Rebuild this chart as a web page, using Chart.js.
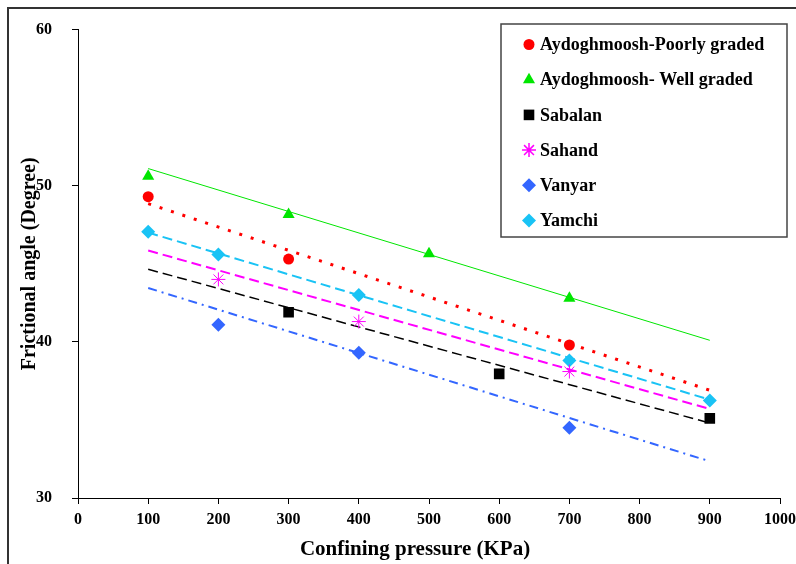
<!DOCTYPE html>
<html>
<head>
<meta charset="utf-8">
<script src="https://cdn.jsdelivr.net/npm/chart.js@4.4.0/dist/chart.umd.min.js"></script>
<style>
  body { margin: 0; background: #fff; }
  canvas { display: block; }
</style>
</head>
<body>
<canvas id="grafico" width="796" height="564"></canvas>
<script>
// Valores (pressão em KPa, ângulo em graus)
const pressaoPoorly = [100, 300, 700];
const anguloPoorly = [49.3, 45.3, 39.8];

const pressaoWell = [100, 300, 500, 700];
const anguloWell = [50.6, 48.15, 45.65, 42.8];

const pressaoSabalan = [300, 600, 900];
const anguloSabalan = [41.9, 37.95, 35.1];

const pressaoSahand = [200, 400, 700];
const anguloSahand = [44.0, 41.3, 38.1];

const pressaoVanyar = [200, 400, 700];
const anguloVanyar = [41.1, 39.3, 34.5];

const pressaoYamchi = [100, 200, 400, 700, 900];
const anguloYamchi = [47.05, 45.6, 43.0, 38.8, 36.25];

// Linhas de tendência (pontos inicial e final)
const tendenciaX = [100, 900];
const tendenciaPoorly = [48.85, 36.9];
const tendenciaWell = [51.1, 40.1];
const tendenciaSabalan = [44.65, 34.8];
const tendenciaSahand = [45.85, 35.7];
const tendenciaVanyar = [43.45, 32.35];
const tendenciaYamchi = [47.0, 36.3];

const nomes = [
  'Aydoghmoosh-Poorly graded', 'Aydoghmoosh- Well graded', 'Sabalan',
  'Sahand', 'Vanyar', 'Yamchi',
];

const ticksX = [0, 100, 200, 300, 400, 500, 600, 700, 800, 900, 1000];
const ticksY = [30, 40, 50, 60];
const tituloX = 'Confining pressure (KPa)';

const fonte = '"Liberation Serif", "Times New Roman", serif';

// junta x e y em pontos {x, y}
function pares(xs, ys) {
  return xs.map((x, i) => ({ x: x, y: ys[i] }));
}

// estilos de cada série
const series = [
  { xs: pressaoPoorly, ys: anguloPoorly, tend: tendenciaPoorly, cor: '#ff0000', ponto: 'circle', raio: 5.5,
    dash: [3, 9], largura: 3 },
  { xs: pressaoWell, ys: anguloWell, tend: tendenciaWell, cor: '#00e600', ponto: 'triangle', raio: 7,
    dash: [], largura: 1 },
  { xs: pressaoSabalan, ys: anguloSabalan, tend: tendenciaSabalan, cor: '#000000', ponto: 'rect', raio: 7.5,
    dash: [10, 5], largura: 1.5 },
  { xs: pressaoSahand, ys: anguloSahand, tend: tendenciaSahand, cor: '#ff00ff', ponto: 'star', raio: 7,
    dash: [10, 5], largura: 2 },
  { xs: pressaoVanyar, ys: anguloVanyar, tend: tendenciaVanyar, cor: '#3366ff', ponto: 'rectRot', raio: 7,
    dash: [9, 5, 2, 5], largura: 2 },
  { xs: pressaoYamchi, ys: anguloYamchi, tend: tendenciaYamchi, cor: '#19c3f5', ponto: 'rectRot', raio: 7,
    dash: [10, 5], largura: 2 },
];

const datasets = [];
series.forEach((s, i) => {
  // pontos medidos
  datasets.push({
    label: nomes[i],
    data: pares(s.xs, s.ys),
    pointStyle: s.ponto,
    pointRadius: s.raio,
    pointBackgroundColor: s.cor,
    pointBorderColor: s.cor,
    pointBorderWidth: s.ponto === 'star' ? 1 : 0,
    showLine: false,
    order: 0,
  });
  // linha de tendência
  datasets.push({
    label: '',
    data: pares(tendenciaX, s.tend),
    showLine: true,
    borderColor: s.cor,
    borderWidth: s.largura,
    borderDash: s.dash,
    pointRadius: 0,
    fill: false,
    order: 1,
  });
});

// Moldura externa, título do eixo X e legenda desenhados à mão
const molduraELegenda = {
  id: 'molduraELegenda',
  afterDraw(chart) {
    const ctx = chart.ctx;
    ctx.save();

    // moldura (só topo e esquerda aparecem no recorte)
    ctx.strokeStyle = '#333';
    ctx.lineWidth = 2;
    ctx.beginPath();
    ctx.moveTo(796, 8);
    ctx.lineTo(8, 8);
    ctx.lineTo(8, 564);
    ctx.stroke();

    // título do eixo X (um pouco à esquerda do centro, como no original)
    ctx.fillStyle = '#000';
    ctx.font = 'bold 21px ' + fonte;
    ctx.textAlign = 'center';
    ctx.textBaseline = 'middle';
    ctx.fillText(tituloX, 415, 550);

    // caixa da legenda
    ctx.fillStyle = '#fff';
    ctx.fillRect(501, 24, 286, 213);
    ctx.strokeStyle = '#444';
    ctx.lineWidth = 1.5;
    ctx.strokeRect(501, 24, 286, 213);

    ctx.font = 'bold 18px ' + fonte;
    ctx.textBaseline = 'middle';
    ctx.textAlign = 'left';
    series.forEach((s, i) => {
      const y = 44.5 + i * 35.2;
      ctx.fillStyle = s.cor;
      ctx.strokeStyle = s.cor;
      Chart.helpers.drawPoint(ctx, {
        pointStyle: s.ponto,
        radius: s.raio,
        rotation: 0,
        borderWidth: s.ponto === 'star' ? 1 : 0,
      }, 529, y);
      ctx.fillStyle = '#000';
      ctx.fillText(nomes[i], 540, y + 1);
    });

    ctx.restore();
  }
};

const ctx = document.getElementById('grafico').getContext('2d');
new Chart(ctx, {
  type: 'scatter',
  data: { datasets: datasets },
  plugins: [molduraELegenda],
  options: {
    responsive: false,
    animation: false,
    layout: { padding: { top: 27, right: 16, bottom: 0, left: 0 } },
    plugins: {
      legend: { display: false },
      tooltip: { enabled: false },
    },
    scales: {
      x: {
        type: 'linear',
        min: 0,
        max: 1000,
        afterBuildTicks: (scale) => { scale.ticks = ticksX.map(v => ({ value: v })); },
        afterFit: (scale) => {
          scale.height = 66;
          scale.paddingRight = 0; // deixa o "1000" passar da borda como no original
        },
        grid: { drawOnChartArea: false, drawTicks: true, tickLength: 6, color: '#000' },
        border: { color: '#000', width: 1 },
        ticks: {
          color: '#000',
          padding: 6,
          maxRotation: 0,
          callback: (v) => String(v),
          font: { family: fonte, size: 16, weight: 'bold' },
        },
        title: { display: false },
      },
      y: {
        type: 'linear',
        min: 30,
        max: 60,
        afterBuildTicks: (scale) => { scale.ticks = ticksY.map(v => ({ value: v })); },
        afterFit: (scale) => { scale.width = 78; },
        grid: { drawOnChartArea: false, drawTicks: true, tickLength: 6, color: '#000' },
        border: { color: '#000', width: 1 },
        ticks: {
          color: '#000',
          padding: 20,
          callback: (v) => String(v),
          font: { family: fonte, size: 16, weight: 'bold' },
        },
        title: {
          display: true,
          text: 'Frictional angle (Degree)',
          color: '#000',
          padding: { top: 18, bottom: 0 },
          font: { family: fonte, size: 20, weight: 'bold' },
        },
      },
    },
  },
});
</script>
</body>
</html>
